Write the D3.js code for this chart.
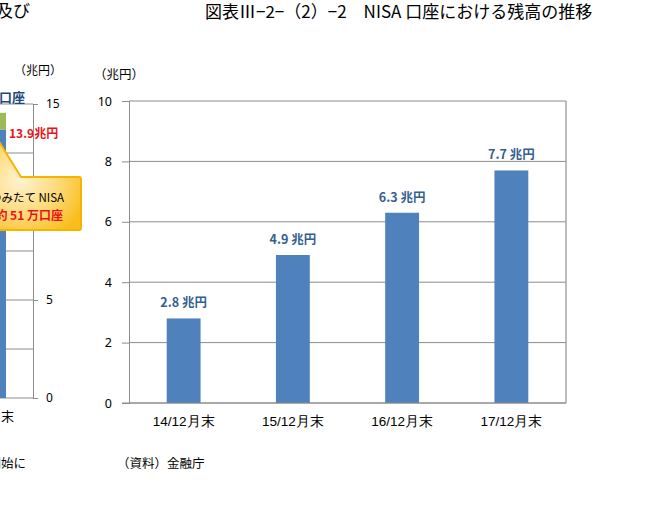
<!DOCTYPE html>
<html>
<head>
<meta charset="utf-8">
<script src="https://cdn.jsdelivr.net/npm/d3@7"></script>
<style>
  body { margin: 0; background: #fff; }
  svg { display: block; font-family: "Noto Sans CJK JP", "Noto Sans", sans-serif; }
</style>
</head>
<body>
<div id="chart"></div>
<script>
// main chart: NISA balance
const categories = ["14/12月末", "15/12月末", "16/12月末", "17/12月末"];
const balances = [2.8, 4.9, 6.3, 7.7];
const barLabels = ["2.8 兆円", "4.9 兆円", "6.3 兆円", "7.7 兆円"];
const yTicks = [0, 2, 4, 6, 8, 10];

// neighbouring chart, only partly visible at the left edge
const leftCategories = ["17/12月末"];
const leftGeneral = [13.7];
const leftTsumitate = [0.85];
const leftTicks = [0, 5, 15]; // the 10 label sits under the callout
const leftGrid = [0, 2.5, 5, 7.5, 10, 12.5, 15];

const width = 651;
const height = 522;
const gridColor = "#8c8c8c";
const barColor = "#4f81bd";

const svg = d3.select("#chart")
  .append("svg")
  .attr("width", width)
  .attr("height", height);

// ---- left (cropped) chart ----
const ly = d3.scaleLinear().domain([0, 15]).range([398, 104]);
const lx = d3.scaleBand().domain(leftCategories).range([-57, 33]).paddingInner(0.6).paddingOuter(0.3);

const left = svg.append("g");

left.append("g")
  .selectAll("line")
  .data(leftGrid)
  .enter()
  .append("line")
  .attr("x1", 0)
  .attr("x2", 33)
  .attr("y1", (d) => ly(d))
  .attr("y2", (d) => ly(d))
  .attr("stroke", gridColor)
  .attr("stroke-width", 1);

left.append("g")
  .selectAll("rect")
  .data(leftCategories)
  .enter()
  .append("rect")
  .attr("x", (d) => lx(d))
  .attr("width", lx.bandwidth())
  .attr("y", (d, i) => ly(leftGeneral[i]))
  .attr("height", (d, i) => ly(0) - ly(leftGeneral[i]))
  .attr("fill", barColor);

left.append("g")
  .selectAll("rect")
  .data(leftCategories)
  .enter()
  .append("rect")
  .attr("x", (d) => lx(d))
  .attr("width", lx.bandwidth())
  .attr("y", (d, i) => ly(leftGeneral[i] + leftTsumitate[i]))
  .attr("height", (d, i) => ly(leftGeneral[i]) - ly(leftGeneral[i] + leftTsumitate[i]))
  .attr("fill", "#9bbb59");

const leftAxis = left.append("g")
  .attr("transform", "translate(33,0)")
  .call(d3.axisRight(ly).tickValues(leftTicks).tickSize(5).tickPadding(8));
leftAxis.select(".domain").attr("stroke", gridColor);
leftAxis.selectAll(".tick line").attr("stroke", gridColor);
leftAxis.selectAll("text")
  .attr("font-family", "'Noto Sans', sans-serif")
  .attr("font-size", 12)
  .attr("fill", "#000");

left.append("g")
  .selectAll("text")
  .data(leftCategories)
  .enter()
  .append("text")
  .attr("x", (d) => lx(d) + lx.bandwidth() + 8)
  .attr("y", 421)
  .attr("text-anchor", "end")
  .attr("font-size", 13)
  .text((d) => d);

left.append("text")
  .attr("x", 62)
  .attr("y", 75)
  .attr("text-anchor", "end")
  .attr("font-size", 12)
  .text("（兆円）");

left.append("text")
  .attr("x", 25)
  .attr("y", 102)
  .attr("text-anchor", "end")
  .attr("font-size", 13)
  .attr("font-weight", "bold")
  .attr("fill", "#1f497d")
  .text("NISA口座");

left.append("text")
  .attr("x", 9)
  .attr("y", 138)
  .attr("font-size", 12)
  .attr("font-weight", "bold")
  .attr("fill", "#e8131b")
  .text("13.9兆円");

// callout
const grad = svg.append("defs")
  .append("radialGradient")
  .attr("id", "callout")
  .attr("cx", "40%").attr("cy", "45%").attr("r", "70%");
grad.append("stop").attr("offset", "0%").attr("stop-color", "#fff3cf");
grad.append("stop").attr("offset", "55%").attr("stop-color", "#fdd978");
grad.append("stop").attr("offset", "100%").attr("stop-color", "#f9bd1c");

left.append("path")
  .attr("d", "M-20,177 L-6,177 L-2,140 L21,177 L79,177 Q81,177 81,179 L81,228 Q81,230 79,230 L-20,230 Z")
  .attr("fill", "url(#callout)")
  .attr("stroke", "#f6b400")
  .attr("stroke-width", 2);

left.append("text")
  .attr("x", 64)
  .attr("y", 202)
  .attr("text-anchor", "end")
  .attr("font-size", 11.5)
  .text("つみたて NISA");

left.append("text")
  .attr("x", 63)
  .attr("y", 220)
  .attr("text-anchor", "end")
  .attr("font-size", 12)
  .attr("font-weight", "bold")
  .attr("fill", "#e8131b")
  .text("約 51 万口座");

left.append("text")
  .attr("x", 30)
  .attr("y", 17)
  .attr("text-anchor", "end")
  .attr("font-size", 17)
  .text("及び");

left.append("text")
  .attr("x", 26)
  .attr("y", 468)
  .attr("text-anchor", "end")
  .attr("font-size", 12.5)
  .text("取扱開始に");

// ---- main chart ----
const margin = { top: 101, right: 85, bottom: 119, left: 129 };
const x = d3.scaleBand()
  .domain(categories)
  .range([margin.left, width - margin.right])
  .paddingInner(0.69)
  .paddingOuter(0.345);
const y = d3.scaleLinear()
  .domain([0, 10])
  .range([height - margin.bottom, margin.top]);

const main = svg.append("g");

main.append("g")
  .selectAll("line")
  .data(yTicks)
  .enter()
  .append("line")
  .attr("x1", margin.left)
  .attr("x2", width - margin.right)
  .attr("y1", (d) => y(d))
  .attr("y2", (d) => y(d))
  .attr("stroke", gridColor)
  .attr("stroke-width", 1);

main.append("line")
  .attr("x1", width - margin.right)
  .attr("x2", width - margin.right)
  .attr("y1", y(10))
  .attr("y2", y(0))
  .attr("stroke", "#a6a6a6")
  .attr("stroke-width", 1.5);

main.append("g")
  .selectAll("rect")
  .data(balances)
  .enter()
  .append("rect")
  .attr("x", (d, i) => x(categories[i]))
  .attr("width", x.bandwidth())
  .attr("y", (d) => y(d))
  .attr("height", (d) => y(0) - y(d))
  .attr("fill", barColor);

const yAxis = main.append("g")
  .attr("transform", `translate(${margin.left},0)`)
  .call(d3.axisLeft(y).tickValues(yTicks).tickSize(7).tickPadding(10));
yAxis.select(".domain").attr("stroke", gridColor);
yAxis.selectAll(".tick line").attr("stroke", gridColor);
yAxis.selectAll("text")
  .attr("font-family", "'Noto Sans', sans-serif")
  .attr("font-size", 12.5)
  .attr("fill", "#000");

const xAxis = main.append("g")
  .attr("transform", `translate(0,${y(0)})`)
  .call(d3.axisBottom(x).tickSize(0).tickPadding(13));
xAxis.select(".domain").attr("stroke", gridColor).attr("d", `M${margin.left - 7},0H${width - margin.right}`);
xAxis.selectAll("text")
  .attr("font-size", 13.5)
  .attr("fill", "#000");

main.append("g")
  .selectAll("text")
  .data(balances)
  .enter()
  .append("text")
  .attr("x", (d, i) => x(categories[i]) + x.bandwidth() / 2)
  .attr("y", (d) => y(d) - 11)
  .attr("text-anchor", "middle")
  .attr("font-size", 12.5)
  .attr("font-weight", "bold")
  .attr("fill", "#365f91")
  .text((d, i) => barLabels[i]);

main.append("text")
  .attr("x", 94)
  .attr("y", 79)
  .attr("font-size", 12.5)
  .text("（兆円）");

main.append("text")
  .attr("x", 117)
  .attr("y", 468)
  .attr("font-size", 12.5)
  .text("（資料）金融庁");

main.append("text")
  .attr("x", 205)
  .attr("y", 18)
  .attr("font-size", 17)
  .text("図表Ⅲ−2−（2）−2　NISA 口座における残高の推移");
</script>
</body>
</html>
